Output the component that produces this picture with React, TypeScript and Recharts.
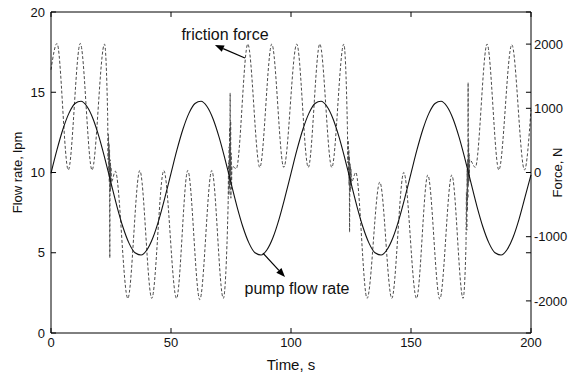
import React from 'react';
import {
  LineChart,
  Line,
  XAxis,
  YAxis,
  ReferenceLine,
  ReferenceDot,
} from 'recharts';

// pump flow rate (lpm), read every 2.5 s
const flowTime = [
  0, 2.5, 5, 7.5, 10, 12.5, 15, 17.5, 20, 22.5, 25, 27.5, 30, 32.5, 35, 37.5, 40, 42.5, 45, 47.5,
  50, 52.5, 55, 57.5, 60, 62.5, 65, 67.5, 70, 72.5, 75, 77.5, 80, 82.5, 85, 87.5, 90, 92.5, 95, 97.5,
  100, 102.5, 105, 107.5, 110, 112.5, 115, 117.5, 120, 122.5, 125, 127.5, 130, 132.5, 135, 137.5, 140, 142.5, 145, 147.5,
  150, 152.5, 155, 157.5, 160, 162.5, 165, 167.5, 170, 172.5, 175, 177.5, 180, 182.5, 185, 187.5, 190, 192.5, 195, 197.5,
  200,
];
const flowRate = [
  9.95, 11.42, 12.71, 13.7, 14.3, 14.44, 14.11, 13.35, 12.22, 10.84, 9.35, 7.88, 6.59, 5.6, 5.0, 4.86, 5.19, 5.95, 7.08, 8.46,
  9.95, 11.42, 12.71, 13.7, 14.3, 14.44, 14.11, 13.35, 12.22, 10.84, 9.35, 7.88, 6.59, 5.6, 5.0, 4.86, 5.19, 5.95, 7.08, 8.46,
  9.95, 11.42, 12.71, 13.7, 14.3, 14.44, 14.11, 13.35, 12.22, 10.84, 9.35, 7.88, 6.59, 5.6, 5.0, 4.86, 5.19, 5.95, 7.08, 8.46,
  9.95, 11.42, 12.71, 13.7, 14.3, 14.44, 14.11, 13.35, 12.22, 10.84, 9.35, 7.88, 6.59, 5.6, 5.0, 4.86, 5.19, 5.95, 7.08, 8.46,
  9.85,
];

// friction force (N): peaks, troughs and the chatter at each reversal
const frictionTime = [
  0, 2.5, 7.2, 12.2, 17.1, 22.3,
  23.6, 23.8, 23.95, 24.1, 24.2, 24.3, 24.4, 24.5, 24.6, 24.7, 24.8, 24.9, 25.0, 25.15,
  26.8, 32, 37, 42, 47, 52.3, 57, 62, 67, 71.8,
  73.8, 74.0, 74.15, 74.25, 74.35, 74.45, 74.55, 74.65, 74.75, 74.85, 74.95, 75.05, 75.2, 75.4,
  77.2, 82, 87, 92, 97, 102.4, 107.2, 112, 117, 122,
  123.5, 123.7, 123.85, 124.0, 124.1, 124.2, 124.3, 124.4, 124.55, 124.65, 124.8, 124.9, 125.0, 125.2,
  127, 131.7, 137, 142, 147, 152.3, 157, 162, 167, 171.7,
  172.9, 173.1, 173.25, 173.4, 173.5, 173.6, 173.7, 173.8, 173.9, 174.0, 174.1, 174.2, 174.3, 174.45,
  176.8, 181.7, 186.6, 192, 197.3, 200,
];
const frictionForce = [
  1600, 2010, 40, 2010, 40, 2000,
  900, 200, 600, 0, 450, -150, 350, -1330, 200, -300, 150, -250, 80, -150,
  20, -1960, 30, -1960, 30, -1960, 30, -1980, 30, -1960,
  -500, 150, -350, 400, -250, 700, -150, 1240, 0, 800, -400, 300, -250, 100,
  60, 2000, 80, 2000, 80, 2000, 80, 2000, 80, 2000,
  700, 150, 500, -50, 350, -200, 250, -930, 150, -300, 100, -250, 50, -150,
  0, -1960, -150, -1960, 0, -1960, -40, -1970, -40, -1960,
  -1150, -300, -900, 50, -600, 200, -400, 1400, -200, 500, -150, 300, -100, 200,
  80, 2000, 40, 1990, 40, 980,
];

const timeTicks = [0, 50, 100, 150, 200];
const flowTicks = [0, 5, 10, 15, 20];
const forceTicks = [-2000, -1000, 0, 1000, 2000];

const flowData = flowTime.map((t, i) => ({ t, flow: flowRate[i] }));
const frictionData = frictionTime.map((t, i) => ({ t, force: frictionForce[i] }));

// inward tick length (about 5 px) in data units
const tLen = 2.1;
const fLen = 0.31;

const font = '"Liberation Sans", Arial, sans-serif';
const tickStyle = { fill: '#111', fontSize: 13, fontFamily: font };
const labelStyle = { fill: '#111', fontSize: 13, fontFamily: font, textAnchor: 'middle' as const };
const noteStyle = { fill: '#111', fontSize: 16, fontFamily: font, textAnchor: 'middle' as const };

const Arrow = (props: any) => {
  const { x1, y1, x2, y2 } = props;
  const ang = Math.atan2(y2 - y1, x2 - x1);
  const len = 9;
  const half = 3.5;
  const bx = x2 - len * Math.cos(ang);
  const by = y2 - len * Math.sin(ang);
  const px = -Math.sin(ang) * half;
  const py = Math.cos(ang) * half;
  return (
    <g>
      <line x1={x1} y1={y1} x2={bx} y2={by} stroke="#000" strokeWidth={1.2} />
      <polygon
        points={`${x2},${y2} ${bx + px},${by + py} ${bx - px},${by - py}`}
        fill="#000"
      />
    </g>
  );
};

export default function App() {
  return (
    <div style={{ width: 584, height: 376, background: '#fff' }}>
      <style>{'body{margin:0}'}</style>
      <LineChart width={584} height={376} margin={{ top: 12, right: 0, bottom: 0, left: 0 }}>
        <XAxis
          type="number"
          dataKey="t"
          domain={[0, 200]}
          ticks={timeTicks}
          height={43}
          tickLine={false}
          tickSize={0}
          tickMargin={5}
          axisLine={{ stroke: '#000' }}
          tick={tickStyle}
          label={{ value: 'Time, s', position: 'insideBottom', offset: 6, style: { ...labelStyle, fontSize: 15 } }}
        />
        <YAxis
          yAxisId="flow"
          type="number"
          domain={[0, 20]}
          ticks={flowTicks}
          width={51}
          tickLine={false}
          tickSize={0}
          tickMargin={6}
          axisLine={{ stroke: '#000' }}
          tick={tickStyle}
          label={{ value: 'Flow rate, lpm', angle: -90, position: 'insideLeft', offset: 17, style: labelStyle }}
        />
        <YAxis
          yAxisId="force"
          orientation="right"
          type="number"
          domain={[-2500, 2500]}
          ticks={forceTicks}
          width={53}
          tickLine={false}
          tickSize={0}
          tickMargin={3}
          axisLine={{ stroke: '#000' }}
          tick={tickStyle}
          label={{ value: 'Force, N', angle: -90, position: 'insideRight', offset: 27, style: labelStyle }}
        />
        {/* box top edge */}
        <ReferenceLine yAxisId="flow" y={20} stroke="#000" />
        {/* inward ticks: bottom and top */}
        {timeTicks.map((t) => (
          <ReferenceLine key={`b${t}`} yAxisId="flow" stroke="#000" segment={[{ x: t, y: 0 }, { x: t, y: fLen }]} />
        ))}
        {timeTicks.map((t) => (
          <ReferenceLine key={`t${t}`} yAxisId="flow" stroke="#000" segment={[{ x: t, y: 20 }, { x: t, y: 20 - fLen }]} />
        ))}
        {/* inward ticks: left, and flow ticks mirrored on the right */}
        {flowTicks.map((v) => (
          <ReferenceLine key={`l${v}`} yAxisId="flow" stroke="#000" segment={[{ x: 0, y: v }, { x: tLen, y: v }]} />
        ))}
        {flowTicks.map((v) => (
          <ReferenceLine key={`r${v}`} yAxisId="flow" stroke="#000" segment={[{ x: 200, y: v }, { x: 200 - tLen, y: v }]} />
        ))}
        {/* inward ticks: force axis */}
        {forceTicks.map((v) => (
          <ReferenceLine key={`f${v}`} yAxisId="force" stroke="#000" segment={[{ x: 200, y: v }, { x: 200 - tLen, y: v }]} />
        ))}
        <Line
          yAxisId="force"
          data={frictionData}
          dataKey="force"
          type="monotone"
          stroke="#4a4a4a"
          strokeWidth={1}
          strokeDasharray="3 2"
          dot={false}
          isAnimationActive={false}
        />
        <Line
          yAxisId="flow"
          data={flowData}
          dataKey="flow"
          type="monotone"
          stroke="#111"
          strokeWidth={1.1}
          dot={false}
          isAnimationActive={false}
        />
        <ReferenceDot
          yAxisId="flow"
          x={72.5}
          y={18.6}
          r={0}
          fill="none"
          stroke="none"
          label={{ value: 'friction force', position: 'center', style: noteStyle }}
        />
        <ReferenceLine
          yAxisId="flow"
          segment={[{ x: 80.8, y: 17.13 }, { x: 68.3, y: 17.94 }]}
          shape={Arrow}
        />
        <ReferenceDot
          yAxisId="flow"
          x={102.5}
          y={2.8}
          r={0}
          fill="none"
          stroke="none"
          label={{ value: 'pump flow rate', position: 'center', style: noteStyle }}
        />
        <ReferenceLine
          yAxisId="flow"
          segment={[{ x: 88.3, y: 4.98 }, { x: 97.5, y: 3.49 }]}
          shape={Arrow}
        />
      </LineChart>
    </div>
  );
}
